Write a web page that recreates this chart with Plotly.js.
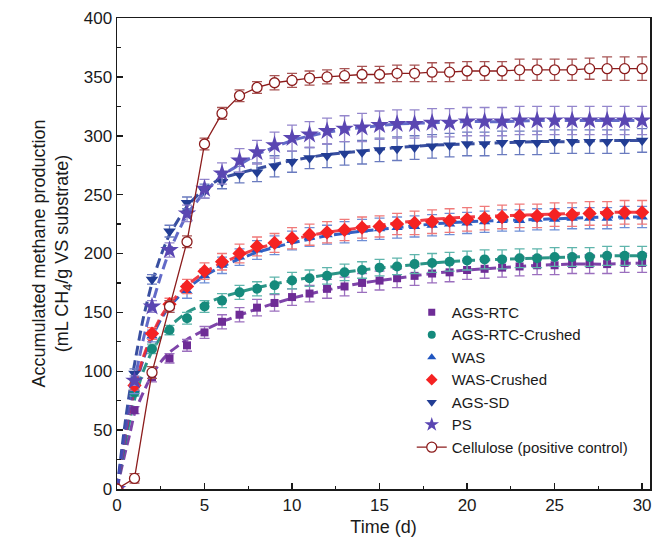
<!DOCTYPE html>
<html>
<head>
<meta charset="utf-8">
<script src="https://cdn.plot.ly/plotly-3.0.1.min.js"></script>
<style>html,body{margin:0;padding:0;background:#fff;}#chart{width:657px;height:545px;}</style>
</head>
<body>
<div id="chart"></div>
<script>
// Days of measurement
var days = [0,1,2,3,4,5,6,7,8,9,10,11,12,13,14,15,16,17,18,19,20,21,22,23,24,25,26,27,28,29,30];

// Measured accumulated methane (mL CH4/g VS)
var agsRtc        = [0,67,95,111,122,133,142,148,154,158,163,166,170,172,175,177,179,181,183,184,186,187,188,189,190,190,191,191,191,192,192];
var agsRtcCrushed = [0,82,119,135,145,155,160,167,170,173,177,179,181,184,186,188,189,191,192,193,194,195,195,196,196,197,197,197,198,198,198];
var was           = [0,85,130,155,168,181,190,197,203,207,211,214,216,218,220,221,222,223,224,225,226,227,228,228,229,229,230,230,230,231,231];
var wasCrushed    = [0,88,132,157,172,185,193,200,206,209,213,216,218,220,222,223,225,226,227,228,229,230,231,232,232,233,233,234,234,235,235];
var agsSd         = [0,98,178,219,243,253,261,267,269,274,278,281,283,285,286,288,289,290,291,292,293,293,294,294,294,295,295,295,295,295,296];
var ps            = [0,92,155,203,234,255,268,279,286,292,298,301,304,306,307,309,310,310,311,311,312,312,312,313,313,313,313,313,313,313,313];
var cellulose     = [0,9,99,155,210,293,319,334,341,345,347,349,350,351,352,352,353,353,354,354,355,355,355,356,356,356,356,357,357,357,357];

// Standard deviations
var errAgsRtc        = [0,3,4,4,5,5,6,6,7,7,7,7,8,8,8,8,8,8,8,8,8,8,8,8,8,8,8,8,8,8,8];
var errAgsRtcCrushed = [0,3,4,4,5,5,6,6,6,7,7,7,7,7,7,7,7,8,8,8,8,8,8,8,8,8,8,8,8,8,8];
var errWas           = [0,4,5,5,6,6,7,7,8,8,8,8,8,9,9,9,9,9,9,9,9,9,9,9,9,9,9,9,9,9,9];
var errWasCrushed    = [0,4,5,5,6,7,7,8,8,8,9,9,9,9,9,9,9,10,10,10,10,10,10,10,10,10,10,10,10,10,10];
var errAgsSd         = [0,4,4,5,5,6,6,7,8,9,9,9,10,10,10,10,10,10,10,10,10,10,10,10,10,10,10,10,10,10,10];
var errPs            = [0,4,5,6,7,8,9,10,10,11,11,11,11,11,12,12,12,12,12,12,12,12,12,12,12,12,12,12,12,12,12];
var errCellulose     = [0,4,5,5,5,5,5,5,5,6,6,6,6,6,7,7,7,7,8,8,8,8,8,9,9,9,9,9,10,10,10];

// Fitted curves (dashed)
var fitDays          = [0,0.25,0.5,0.75,1,1.5,2,2.5,3,4,5,6,8,10,12,14,16,18,20,22,24,26,28,30];
var fitAgsRtc        = [0,17,33,48,64,82,97,108,116,127,135,142,153,162,169,175,179,183,186,188,190,191,191,192];
var fitAgsRtcCrushed = [0,22,42,60,76,100,117,129,138,150,157,163,171,177,182,186,189,192,194,195,196,197,198,198];
var fitWas           = [0,24,46,66,84,110,129,144,155,170,181,189,201,209,215,219,222,225,227,228,229,230,231,231];
var fitWasCrushed    = [0,25,48,68,86,112,131,146,157,173,184,192,204,212,218,222,226,229,231,232,233,234,235,235];
var fitAgsSd         = [0,31,60,85,106,145,175,198,216,240,255,264,272,279,284,287,290,292,293,294,295,295,296,296];
var fitPs            = [0,26,50,72,92,127,156,181,202,233,252,266,284,296,303,307,310,311,312,312,313,313,313,313];

var names = ['AGS-RTC','AGS-RTC-Crushed','WAS','WAS-Crushed','AGS-SD','PS','Cellulose (positive control)'];

var FONT = 'Arial, "Liberation Sans", sans-serif';

function fit(y, color) {
  return {x: fitDays, y: y, type: 'scatter', mode: 'lines', showlegend: false, hoverinfo: 'skip',
    line: {color: color, width: 3, dash: '10px,5px', shape: 'spline', smoothing: 0.6}};
}
function data(name, y, err, color, ecolor, symbol, size) {
  return {x: days, y: y, name: name, type: 'scatter', mode: 'markers', showlegend: false,
    marker: {symbol: symbol, size: size, color: color},
    error_y: {type: 'data', array: err, visible: true, color: ecolor, thickness: 1.3, width: 5}};
}
function key(name, color, symbol, size) {
  return {x: [null], y: [null], name: name, type: 'scatter', mode: 'markers',
    marker: {symbol: symbol, size: size, color: color}};
}

var colors = ['#6e2c96', '#158a7c', '#1f55c0', '#f52222', '#223d94', '#5a46b2'];
var symbols = ['square', 'circle', 'triangle-up', 'diamond', 'triangle-down', 'star'];

var traces = [
  fit(fitAgsRtc, 'rgba(112,48,160,0.9)'),
  fit(fitAgsRtcCrushed, 'rgba(20,138,122,0.9)'),
  fit(fitWas, 'rgba(30,80,190,0.9)'),
  fit(fitWasCrushed, 'rgba(240,40,50,0.9)'),
  fit(fitAgsSd, 'rgba(35,60,150,0.9)'),
  fit(fitPs, 'rgba(70,80,190,0.85)'),
  data(names[0], agsRtc, errAgsRtc, colors[0], '#9b6fbe', symbols[0], 8),
  data(names[1], agsRtcCrushed, errAgsRtcCrushed, colors[1], '#5fb5ac', symbols[1], 10),
  data(names[2], was, errWas, colors[2], '#6f8fd6', symbols[2], 10),
  data(names[3], wasCrushed, errWasCrushed, colors[3], '#f07a7a', symbols[3], 11),
  data(names[4], agsSd, errAgsSd, colors[4], '#6a7bbf', symbols[4], 11),
  data(names[5], ps, errPs, colors[5], '#9486cc', symbols[5], 14),
  key(names[0], colors[0], symbols[0], 7),
  key(names[1], colors[1], symbols[1], 8),
  key(names[2], colors[2], symbols[2], 8),
  key(names[3], colors[3], symbols[3], 9),
  key(names[4], colors[4], symbols[4], 9),
  key(names[5], colors[5], symbols[5], 11),
  {x: days, y: cellulose, name: names[6], type: 'scatter', mode: 'lines+markers',
    line: {color: '#8c1c1c', width: 1.3},
    marker: {symbol: 'circle', size: 10, color: '#ffffff', line: {color: '#8c1c1c', width: 1.3}},
    error_y: {type: 'data', array: errCellulose, visible: true, color: '#a85555', thickness: 1.3, width: 5}}
];

var layout = {
  width: 657, height: 545,
  margin: {l: 117, r: 7, t: 18, b: 56},
  paper_bgcolor: '#fff', plot_bgcolor: '#fff',
  font: {family: FONT, color: '#1a1a1a', size: 17},
  showlegend: true,
  legend: {x: 0.553, y: 0.41, xanchor: 'left', yanchor: 'top', bgcolor: 'rgba(0,0,0,0)',
    font: {family: FONT, size: 15, color: '#1a1a1a'}, itemwidth: 30, tracegroupgap: 0},
  xaxis: {
    range: [0, 30.45], tickvals: [0,5,10,15,20,25,30], ticks: 'inside', ticklen: 6, tickwidth: 1.5,
    tickcolor: '#1a1a1a', showline: true, linecolor: '#1a1a1a', linewidth: 1.5, mirror: true,
    showgrid: false, zeroline: false, tickfont: {size: 17},
    minor: {dtick: 2.5, ticks: 'inside', ticklen: 3.5, tickwidth: 1.3, tickcolor: '#1a1a1a', showgrid: false},
    title: {text: 'Time (d)', font: {size: 18}, standoff: 6}
  },
  yaxis: {
    range: [0, 400], dtick: 50, ticks: 'inside', ticklen: 6, tickwidth: 1.5,
    tickcolor: '#1a1a1a', showline: true, linecolor: '#1a1a1a', linewidth: 1.5, mirror: true,
    showgrid: false, zeroline: false, tickfont: {size: 17},
    minor: {dtick: 25, ticks: 'inside', ticklen: 3.5, tickwidth: 1.3, tickcolor: '#1a1a1a', showgrid: false},
    title: {text: 'Accumulated methane production<br>(mL CH<sub>4</sub>/g VS substrate)', font: {size: 18}, standoff: 10}
  }
};

Plotly.newPlot('chart', traces, layout, {displayModeBar: false, staticPlot: true});
</script>
</body>
</html>
